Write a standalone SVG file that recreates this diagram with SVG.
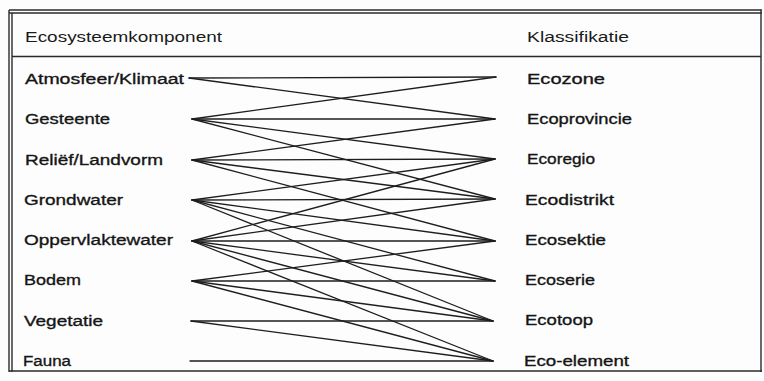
<svg xmlns="http://www.w3.org/2000/svg" width="764" height="381" viewBox="0 0 764 381">
<style>
text{font-family:"Liberation Sans",Arial,sans-serif;font-size:15.5px;fill:#151515;stroke:#151515;stroke-width:0.35}
text.h{stroke:none;fill:#1a1a1a}
.frame{fill:none;stroke:#2a2a2a;stroke-width:1.4}
.c line{stroke:#1e1e1e;stroke-width:1.3;stroke-linecap:round}
</style>
<rect x="0" y="0" width="764" height="381" fill="#fdfdfd"/>
<g id="frame">
<line class="frame" x1="9" y1="10" x2="762" y2="10"/>
<line class="frame" x1="9" y1="13" x2="762" y2="13"/>
<line class="frame" x1="9" y1="10" x2="9" y2="372"/>
<line class="frame" x1="12" y1="13" x2="12" y2="372"/>
<line class="frame" x1="761" y1="10" x2="761" y2="372"/>
<line class="frame" x1="9" y1="371" x2="762" y2="371"/>
<line class="frame" x1="12" y1="56.5" x2="761" y2="56.5"/>
</g>
<g id="header">
<text class="h" x="25" y="42" textLength="197" lengthAdjust="spacingAndGlyphs">Ecosysteemkomponent</text>
<text class="h" x="527" y="42" textLength="102" lengthAdjust="spacingAndGlyphs">Klassifikatie</text>
</g>
<g id="L1"><text x="25" y="84" textLength="159" lengthAdjust="spacingAndGlyphs">Atmosfeer/Klimaat</text></g>
<g id="L2"><text x="25" y="124" textLength="85" lengthAdjust="spacingAndGlyphs">Gesteente</text></g>
<g id="L3"><text x="25" y="165" textLength="138" lengthAdjust="spacingAndGlyphs">Reliëf/Landvorm</text></g>
<g id="L4"><text x="24" y="205" textLength="99" lengthAdjust="spacingAndGlyphs">Grondwater</text></g>
<g id="L5"><text x="24" y="245" textLength="149" lengthAdjust="spacingAndGlyphs">Oppervlaktewater</text></g>
<g id="L6"><text x="24" y="285" textLength="57" lengthAdjust="spacingAndGlyphs">Bodem</text></g>
<g id="L7"><text x="24" y="325.5" textLength="79" lengthAdjust="spacingAndGlyphs">Vegetatie</text></g>
<g id="L8"><text x="23" y="366" textLength="48" lengthAdjust="spacingAndGlyphs">Fauna</text></g>
<g id="R1"><text x="527" y="83.5" textLength="78" lengthAdjust="spacingAndGlyphs">Ecozone</text></g>
<g id="R2"><text x="527" y="124" textLength="105" lengthAdjust="spacingAndGlyphs">Ecoprovincie</text></g>
<g id="R3"><text x="527" y="164" textLength="68" lengthAdjust="spacingAndGlyphs">Ecoregio</text></g>
<g id="R4"><text x="525" y="205" textLength="89" lengthAdjust="spacingAndGlyphs">Ecodistrikt</text></g>
<g id="R5"><text x="525" y="245" textLength="81" lengthAdjust="spacingAndGlyphs">Ecosektie</text></g>
<g id="R6"><text x="525" y="285" textLength="70" lengthAdjust="spacingAndGlyphs">Ecoserie</text></g>
<g id="R7"><text x="525" y="325" textLength="68" lengthAdjust="spacingAndGlyphs">Ecotoop</text></g>
<g id="R8"><text x="524" y="366" textLength="105" lengthAdjust="spacingAndGlyphs">Eco-element</text></g>
<g id="connectors" class="c">
<line x1="189" y1="78" x2="496" y2="77"/>
<line x1="189" y1="78" x2="495" y2="119"/>
<line x1="192" y1="119" x2="496" y2="77"/>
<line x1="192" y1="119" x2="495" y2="119"/>
<line x1="192" y1="119" x2="495" y2="159"/>
<line x1="192" y1="119" x2="495" y2="199"/>
<line x1="192" y1="160" x2="495" y2="119"/>
<line x1="192" y1="160" x2="495" y2="159"/>
<line x1="192" y1="160" x2="495" y2="199"/>
<line x1="192" y1="160" x2="495" y2="241"/>
<line x1="192" y1="200" x2="495" y2="159"/>
<line x1="192" y1="200" x2="495" y2="199"/>
<line x1="192" y1="200" x2="495" y2="241"/>
<line x1="192" y1="200" x2="495" y2="281"/>
<line x1="192" y1="200" x2="493" y2="321"/>
<line x1="192" y1="241" x2="495" y2="159"/>
<line x1="192" y1="241" x2="495" y2="199"/>
<line x1="192" y1="241" x2="495" y2="241"/>
<line x1="192" y1="241" x2="495" y2="281"/>
<line x1="192" y1="241" x2="493" y2="321"/>
<line x1="192" y1="241" x2="493" y2="361"/>
<line x1="192" y1="281" x2="495" y2="241"/>
<line x1="192" y1="281" x2="495" y2="281"/>
<line x1="192" y1="281" x2="493" y2="321"/>
<line x1="192" y1="281" x2="493" y2="361"/>
<line x1="191" y1="321" x2="493" y2="321"/>
<line x1="191" y1="321" x2="493" y2="361"/>
<line x1="190" y1="361" x2="493" y2="361"/>
</g>
</svg>
